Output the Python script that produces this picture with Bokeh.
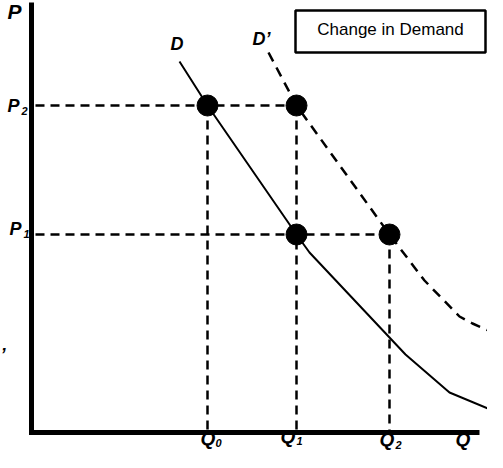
from bokeh.plotting import figure
from bokeh.models import Range1d
from bokeh.core.properties import value
from bokeh.embed import file_html
from bokeh.resources import INLINE

# ---- data (quantity / price units) ----
q_names = ["Q", "Q", "Q"]
q_subs = ["0", "1", "2"]
q_values = [176, 265, 358]

p_names = ["P", "P"]
p_subs = ["1", "2"]
p_values = [198, 327]

# demand curve D
d_q = [148, 176, 265, 278, 358, 374, 418, 461]
d_p = [371, 327, 198, 180, 95, 78, 40, 22]

# shifted demand curve D'
d2_q = [237, 265, 358, 393, 428, 441, 464]
d2_p = [380, 327, 198, 152, 116, 109, 99]

# equilibrium points
eq_q = [176, 265, 265, 358]
eq_p = [327, 327, 198, 198]

box_title = "Change in Demand"

FONT = value("Liberation Sans")

p = figure(width=487, height=452, output_backend="svg", toolbar_location=None,
           x_range=Range1d(-31, 456), y_range=Range1d(-20, 432),
           min_border=0, outline_line_color=None)
p.axis.visible = False
p.grid.visible = False
p.background_fill_color = "white"

# guide lines
h_y, h_x1 = [], []
for pv in p_values:
    h_y.append(pv)
    h_x1.append(max(q for q, pp in zip(eq_q, eq_p) if pp == pv))
p.segment(x0=[4] * len(h_y), y0=h_y, x1=h_x1, y1=h_y,
          line_color="black", line_width=2.5, line_dash="9 6")
v_x, v_y0 = [], []
for qv in q_values:
    v_x.append(qv)
    v_y0.append(max(pp for q, pp in zip(eq_q, eq_p) if q == qv))
p.segment(x0=v_x, y0=v_y0, x1=v_x, y1=[0] * len(v_x),
          line_color="black", line_width=2.5, line_dash="9 6")

# curves
p.line(d_q, d_p, line_color="black", line_width=2)
p.line(d2_q, d2_p, line_color="black", line_width=2.5, line_dash="10 7")

# axes
p.line([0, 0], [-2.5, 430], line_color="black", line_width=5)
p.line([-2.5, 448], [0, 0], line_color="black", line_width=5)

# equilibrium dots
p.scatter(eq_q, eq_p, size=21, fill_color="black", line_color="black")

# legend box
p.quad(left=[264], right=[454], bottom=[380], top=[422],
       fill_color="white", line_color="black", line_width=2.5)
p.text(x=[359], y=[403], text=[box_title], text_font=FONT, text_font_size="17px",
       text_align="center", text_baseline="alphabetic", text_color="black")

# axis name labels
p.text(x=[-24], y=[421], text=["P"], text_font=FONT, text_font_style="bold italic",
       text_font_size="21px", text_baseline="alphabetic")
p.text(x=[424], y=[-7], text=["Q"], text_font=FONT, text_font_style="bold italic",
       text_font_size="19px", text_baseline="alphabetic")

# price labels
p.text(x=[-22, -24], y=[204, 327], text=p_names, text_font=FONT, text_font_style="bold italic",
       text_font_size="18px", text_baseline="alphabetic")
p.text(x=[-8, -10], y=[199, 322], text=p_subs, text_font=FONT, text_font_style="bold italic",
       text_font_size="11px", text_baseline="alphabetic")

# quantity labels
p.text(x=[169, 249, 348], y=[-6, -4, -7], text=q_names, text_font=FONT,
       text_font_style="bold italic", text_font_size="19px", text_baseline="alphabetic")
p.text(x=[184, 265, 364], y=[-10, -8, -12], text=q_subs, text_font=FONT,
       text_font_style="bold italic", text_font_size="11px", text_baseline="alphabetic")

# curve labels
p.text(x=[139, 221], y=[389, 394], text=["D", "D\u2019"], text_font=FONT,
       text_font_style="bold italic", text_font_size="18px", text_baseline="alphabetic")

# stray mark at left edge
p.text(x=[-31], y=[78], text=["\u2019"], text_font=FONT, text_font_style="bold italic",
       text_font_size="18px", text_baseline="middle")

open("out.html", "w").write(file_html(p, INLINE))
